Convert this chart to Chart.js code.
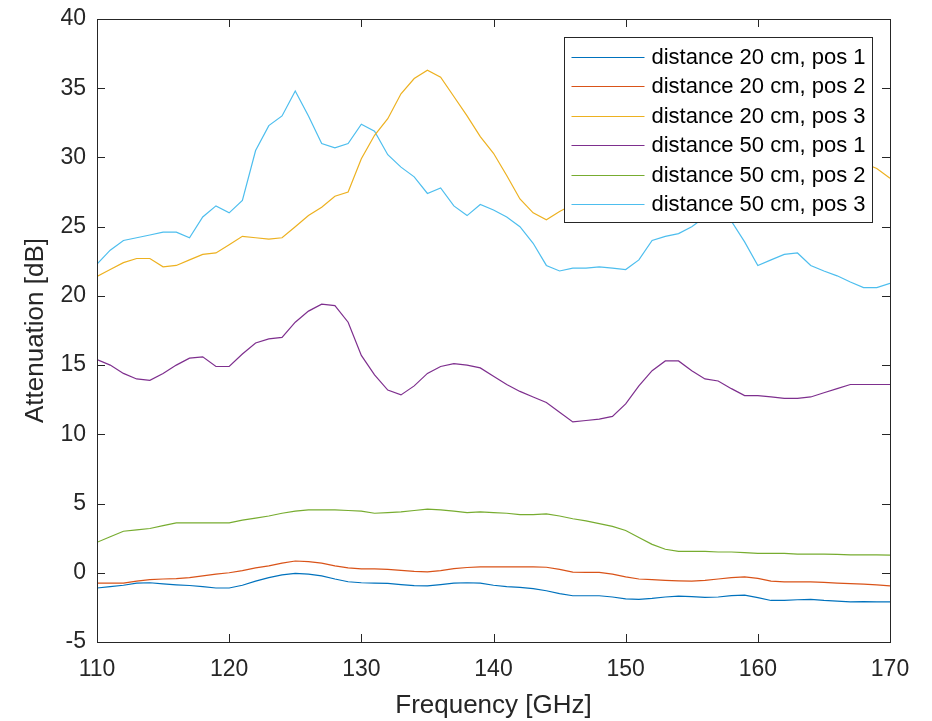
<!DOCTYPE html>
<html>
<head>
<meta charset="utf-8">
<script src="https://cdn.jsdelivr.net/npm/chart.js@4.4.1/dist/chart.umd.min.js"></script>
<style>
  html, body { margin: 0; padding: 0; background: #fff; }
</style>
</head>
<body>
<canvas id="chart" width="932" height="721"></canvas>
<script>
// Frequency axis, 1 GHz steps
const freq = [110, 111, 112, 113, 114, 115, 116, 117, 118, 119,
              120, 121, 122, 123, 124, 125, 126, 127, 128, 129,
              130, 131, 132, 133, 134, 135, 136, 137, 138, 139,
              140, 141, 142, 143, 144, 145, 146, 147, 148, 149,
              150, 151, 152, 153, 154, 155, 156, 157, 158, 159,
              160, 161, 162, 163, 164, 165, 166, 167, 168, 169,
              170];

// Attenuation [dB]
const d20pos1 = [-1.1, -1.0, -0.9, -0.75, -0.72, -0.8, -0.87, -0.92, -1.0, -1.1,
                 -1.1, -0.9, -0.6, -0.35, -0.15, -0.05, -0.1, -0.22, -0.45, -0.65,
                 -0.72, -0.75, -0.77, -0.85, -0.93, -0.95, -0.85, -0.75, -0.72, -0.75,
                 -0.9, -1.0, -1.05, -1.15, -1.3, -1.5, -1.66, -1.66, -1.66, -1.75,
                 -1.88, -1.92, -1.85, -1.75, -1.68, -1.72, -1.77, -1.75, -1.65, -1.62,
                 -1.8, -2.0, -2.0, -1.95, -1.92, -2.0, -2.05, -2.1, -2.08, -2.1,
                 -2.1];
const d20pos2 = [-0.75, -0.75, -0.75, -0.6, -0.5, -0.45, -0.42, -0.35, -0.22, -0.1,
                 0.0, 0.15, 0.35, 0.5, 0.7, 0.85, 0.8, 0.7, 0.5, 0.35,
                 0.28, 0.28, 0.25, 0.18, 0.1, 0.07, 0.15, 0.3, 0.38, 0.43,
                 0.43, 0.43, 0.43, 0.43, 0.4, 0.25, 0.05, 0.03, 0.03, -0.1,
                 -0.3, -0.45, -0.5, -0.55, -0.58, -0.6, -0.55, -0.45, -0.35, -0.3,
                 -0.4, -0.6, -0.65, -0.65, -0.65, -0.7, -0.75, -0.78, -0.82, -0.88,
                 -0.94];
const d20pos3 = [21.4, 21.9, 22.4, 22.7, 22.7, 22.1, 22.2, 22.6, 23.0, 23.1,
                 23.7, 24.3, 24.2, 24.1, 24.2, 25.0, 25.8, 26.4, 27.2, 27.5,
                 29.9, 31.6, 32.8, 34.6, 35.7, 36.3, 35.8, 34.4, 33.0, 31.5,
                 30.3, 28.7, 27.0, 26.0, 25.5, 26.1, 26.6, 26.9, 27.2, 27.5,
                 27.6, 27.8, 28.0, 28.3, 28.6, 28.8, 29.0, 29.2, 29.5, 29.8,
                 30.0, 30.2, 30.3, 30.4, 30.3, 30.2, 30.0, 29.8, 29.6, 29.2,
                 28.5];
const d50pos1 = [15.4, 15.0, 14.4, 14.0, 13.9, 14.4, 15.0, 15.5, 15.6, 14.9,
                 14.9, 15.8, 16.6, 16.9, 17.0, 18.1, 18.9, 19.4, 19.3, 18.1,
                 15.7, 14.3, 13.2, 12.85, 13.5, 14.4, 14.9, 15.1, 15.0, 14.8,
                 14.2, 13.6, 13.1, 12.7, 12.3, 11.6, 10.9, 11.0, 11.1, 11.3,
                 12.2, 13.5, 14.6, 15.3, 15.3, 14.6, 14.0, 13.85, 13.3, 12.8,
                 12.8, 12.7, 12.6, 12.6, 12.7, 13.0, 13.3, 13.6, 13.6, 13.6,
                 13.6];
const d50pos2 = [2.2, 2.6, 3.0, 3.1, 3.2, 3.4, 3.6, 3.6, 3.6, 3.6,
                 3.6, 3.8, 3.95, 4.1, 4.3, 4.45, 4.55, 4.55, 4.55, 4.5,
                 4.45, 4.3, 4.35, 4.4, 4.5, 4.6, 4.55, 4.45, 4.35, 4.4,
                 4.35, 4.3, 4.2, 4.2, 4.25, 4.1, 3.9, 3.75, 3.55, 3.35,
                 3.05, 2.55, 2.05, 1.7, 1.55, 1.55, 1.55, 1.5, 1.5, 1.45,
                 1.4, 1.4, 1.4, 1.35, 1.35, 1.35, 1.33, 1.3, 1.3, 1.3,
                 1.28];
const d50pos3 = [22.3, 23.3, 24.0, 24.2, 24.4, 24.6, 24.6, 24.2, 25.7, 26.5,
                 26.0, 26.9, 30.5, 32.3, 33.0, 34.8, 33.0, 31.0, 30.7, 31.0,
                 32.4, 31.9, 30.2, 29.3, 28.6, 27.4, 27.8, 26.5, 25.8, 26.6,
                 26.2, 25.7, 25.0, 23.8, 22.2, 21.8, 22.0, 22.0, 22.1, 22.0,
                 21.9, 22.6, 24.0, 24.3, 24.5, 25.0, 25.7, 25.9, 25.4, 23.9,
                 22.2, 22.6, 23.0, 23.1, 22.2, 21.8, 21.45, 21.0, 20.6, 20.6,
                 20.9];

const seriesNames = ['distance 20 cm, pos 1', 'distance 20 cm, pos 2', 'distance 20 cm, pos 3',
                     'distance 50 cm, pos 1', 'distance 50 cm, pos 2', 'distance 50 cm, pos 3'];
const seriesColors = ['#0072BD', '#D95319', '#EDB120', '#7E2F8E', '#77AC30', '#4DBEEE'];
const xTicks = [110, 120, 130, 140, 150, 160, 170];
const yTicks = [-5, 0, 5, 10, 15, 20, 25, 30, 35, 40];

const FONT = '"Liberation Sans", Arial, Helvetica, sans-serif';
const AXIS = '#262626';

function toPoints(vals) {
  return vals.map((v, i) => ({ x: freq[i], y: v }));
}

const allSeries = [d20pos1, d20pos2, d20pos3, d50pos1, d50pos2, d50pos3];

// Box + inward tick marks, MATLAB style
const boxAxes = {
  id: 'boxAxes',
  afterDatasetsDraw(chart) {
    const { ctx, chartArea: a, scales: { x, y } } = chart;
    ctx.save();
    ctx.strokeStyle = AXIS;
    ctx.lineWidth = 1;
    ctx.beginPath();
    xTicks.forEach(v => {
      const px = Math.round(x.getPixelForValue(v)) + 0.5;
      ctx.moveTo(px, a.bottom); ctx.lineTo(px, a.bottom - 8);
      ctx.moveTo(px, a.top); ctx.lineTo(px, a.top + 8);
    });
    yTicks.forEach(v => {
      const py = Math.round(y.getPixelForValue(v)) + 0.5;
      ctx.moveTo(a.left, py); ctx.lineTo(a.left + 8, py);
      ctx.moveTo(a.right, py); ctx.lineTo(a.right - 8, py);
    });
    ctx.stroke();
    ctx.strokeRect(Math.round(a.left) + 0.5, Math.round(a.top) + 0.5,
                   Math.round(a.right - a.left), Math.round(a.bottom - a.top));
    ctx.restore();
  }
};

// Legend box drawn inside the plot, top right
const boxLegend = {
  id: 'boxLegend',
  afterDraw(chart) {
    const { ctx, chartArea: a } = chart;
    const w = 308, h = 185;
    const lx = Math.round(a.right - 18 - w) + 0.5;
    const ly = Math.round(a.top + 18) + 0.5;
    ctx.save();
    ctx.fillStyle = '#fff';
    ctx.fillRect(lx, ly, w, h);
    ctx.strokeStyle = AXIS;
    ctx.lineWidth = 1;
    ctx.strokeRect(lx, ly, w, h);
    ctx.font = '22px ' + FONT;
    ctx.textBaseline = 'middle';
    ctx.textAlign = 'left';
    chart.data.datasets.forEach((ds, i) => {
      const cy = ly + 19 + i * 29.5;
      ctx.strokeStyle = ds.borderColor;
      ctx.lineWidth = 1.2;
      ctx.beginPath();
      ctx.moveTo(lx + 7, Math.round(cy) + 0.5);
      ctx.lineTo(lx + 80, Math.round(cy) + 0.5);
      ctx.stroke();
      ctx.fillStyle = '#000';
      ctx.fillText(ds.label, lx + 87, cy + 1);
    });
    ctx.restore();
  }
};

new Chart(document.getElementById('chart'), {
  type: 'line',
  data: {
    datasets: allSeries.map((vals, i) => ({
      label: seriesNames[i],
      data: toPoints(vals),
      borderColor: seriesColors[i],
      borderWidth: 1.2,
      pointRadius: 0,
      tension: 0,
      fill: false
    }))
  },
  options: {
    responsive: false,
    animation: false,
    devicePixelRatio: 1,
    layout: { padding: { top: 19, right: 42, bottom: 0, left: 0 } },
    plugins: {
      legend: { display: false },
      tooltip: { enabled: false }
    },
    scales: {
      x: {
        type: 'linear',
        min: 110, max: 170,
        afterFit: s => { s.height = 79; s.paddingLeft = 0; s.paddingRight = 0; },
        afterBuildTicks: s => { s.ticks = xTicks.map(v => ({ value: v })); },
        grid: { display: false, drawTicks: false },
        border: { display: false },
        ticks: { color: AXIS, padding: 14, font: { family: FONT, size: 23 } },
        title: { display: true, text: 'Frequency [GHz]', color: AXIS,
                 padding: { top: 0, bottom: 0 }, font: { family: FONT, size: 26 } }
      },
      y: {
        min: -5, max: 40,
        afterFit: s => { s.width = 97; s.paddingTop = 0; s.paddingBottom = 0; },
        afterBuildTicks: s => { s.ticks = yTicks.map(v => ({ value: v })); },
        grid: { display: false, drawTicks: false },
        border: { display: false },
        ticks: { color: AXIS, padding: 11, font: { family: FONT, size: 23 } },
        title: { display: true, text: 'Attenuation [dB]', color: AXIS,
                 padding: { top: 20, bottom: 0 }, font: { family: FONT, size: 26 } }
      }
    }
  },
  plugins: [boxAxes, boxLegend]
});
</script>
</body>
</html>
